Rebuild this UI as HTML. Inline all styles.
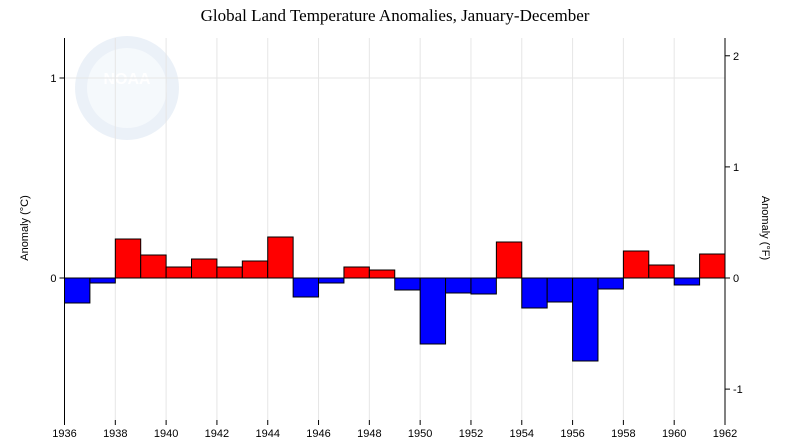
<!DOCTYPE html>
<html><head><meta charset="utf-8"><style>
body{margin:0;background:#fff;}
svg{display:block;font-family:"Liberation Sans","DejaVu Sans",sans-serif;}
</style></head><body>
<svg id="c" width="790" height="447">
<text x="395" y="21" text-anchor="middle" font-family="Liberation Serif, serif" font-size="17">Global Land Temperature Anomalies, January-December</text>
<g opacity="0.35">
<circle cx="127" cy="88" r="52" fill="#c8d8ec"/>
<circle cx="127" cy="88" r="40" fill="#e4eef8"/>
<text x="127" y="84" text-anchor="middle" font-size="16" font-weight="bold" fill="#fff">NOAA</text>
</g>
<g id="grid"></g><g id="bars"></g><g id="axes"></g>
<text transform="translate(28,228) rotate(-90)" text-anchor="middle" font-size="11">Anomaly (°C)</text>
<text transform="translate(762,228) rotate(90)" text-anchor="middle" font-size="11">Anomaly (°F)</text>
</svg>
<script>
const years=[1936,1937,1938,1939,1940,1941,1942,1943,1944,1945,1946,1947,1948,1949,1950,1951,1952,1953,1954,1955,1956,1957,1958,1959,1960,1961,1962];
const anomalies=[-0.125,-0.025,0.195,0.115,0.055,0.095,0.055,0.085,0.205,-0.095,-0.025,0.055,0.04,-0.06,-0.33,-0.075,-0.08,0.18,-0.15,-0.12,-0.415,-0.055,0.135,0.065,-0.035,0.12,0.185];
const xTicks=[1936,1938,1940,1942,1944,1946,1948,1950,1952,1954,1956,1958,1960,1962];
const cTicks=[0,1];
const fTicks=[-1,0,1,2];
const NS="http://www.w3.org/2000/svg";
const L=64.5,R=725,T=38,B=420;
const x=v=>L+(v-1936)*(R-L)/26;
const y=v=>278-v*200;
const yF=f=>y(f*5/9);
function mk(tag,a,p){const e=document.createElementNS(NS,tag);for(const k in a)e.setAttribute(k,a[k]);p.appendChild(e);return e;}
const grid=document.getElementById('grid'),bars=document.getElementById('bars'),axes=document.getElementById('axes');
xTicks.forEach(t=>{const g=mk('line',{x1:x(t),x2:x(t),y1:T,y2:B,stroke:'#e6e6e6'},grid);

});
cTicks.forEach(t=>{const g=mk('line',{x1:L,x2:R,y1:y(t),y2:y(t),stroke:'#e6e6e6'},grid);

});
const clip=mk('clipPath',{id:'pc'},mk('defs',{},document.getElementById('c')));
mk('rect',{x:L,y:T,width:R-L,height:B-T},clip);
bars.setAttribute('clip-path','url(#pc)');
years.forEach((yr,i)=>{const v=anomalies[i];const y0=y(0),y1=y(v);
const r=mk('rect',{x:x(yr),y:Math.min(y0,y1),width:x(yr+1)-x(yr),height:Math.abs(y1-y0),fill:v>=0?'#ff0000':'#0000ff',stroke:'#000','stroke-width':1},bars);

});
mk('line',{x1:L,x2:R,y1:y(0),y2:y(0),stroke:'#000'},axes);
mk('line',{x1:L,x2:L,y1:T,y2:B,stroke:'#000'},axes);
mk('line',{x1:R,x2:R,y1:T,y2:B,stroke:'#000'},axes);
xTicks.forEach(t=>{mk('line',{x1:x(t),x2:x(t),y1:B,y2:B+5,stroke:'#000'},axes);
const tx=mk('text',{x:x(t),y:B+17,'text-anchor':'middle','font-size':11},axes);tx.textContent=t;

});
cTicks.forEach(t=>{mk('line',{x1:L-5,x2:L,y1:y(t),y2:y(t),stroke:'#000'},axes);
const tx=mk('text',{x:L-8,y:y(t)+4,'text-anchor':'end','font-size':11},axes);tx.textContent=t;

});
fTicks.forEach(t=>{mk('line',{x1:R,x2:R+5,y1:yF(t),y2:yF(t),stroke:'#000'},axes);
const tx=mk('text',{x:R+8,y:yF(t)+4,'font-size':11},axes);tx.textContent=t;

});
</script>
</body></html>
